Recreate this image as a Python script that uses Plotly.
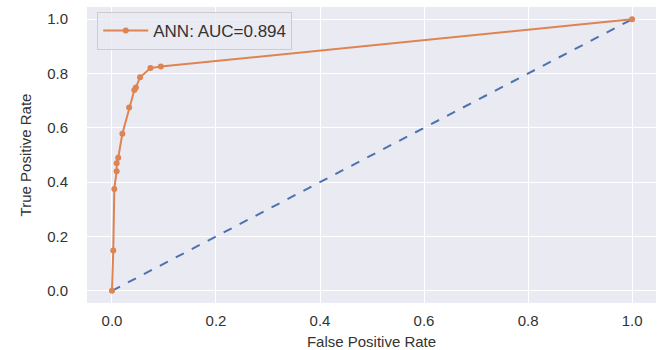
import plotly.graph_objects as go

fpr = [0.0, 0.0025, 0.0045, 0.009, 0.009, 0.012, 0.02, 0.033, 0.043, 0.046, 0.054, 0.074, 0.094, 1.0]
tpr = [0.0, 0.148, 0.375, 0.44, 0.47, 0.49, 0.578, 0.675, 0.739, 0.749, 0.786, 0.82, 0.826, 1.0]
diag_x = [0.0, 1.0]
diag_y = [0.0, 1.0]
label = "ANN: AUC=0.894"
ticks = [0.0, 0.2, 0.4, 0.6, 0.8, 1.0]
tick_text = ["0.0", "0.2", "0.4", "0.6", "0.8", "1.0"]

FONT = "Liberation Sans, Arial"
fig = go.Figure()
fig.add_trace(go.Scatter(x=diag_x, y=diag_y, mode="lines", showlegend=False,
                         line=dict(color="#4c72b0", width=2, dash="dash")))
fig.add_trace(go.Scatter(x=fpr, y=tpr, mode="lines+markers", name=label,
                         line=dict(color="#dd8452", width=2),
                         marker=dict(color="#dd8452", size=6)))

axis_common = dict(tickvals=ticks, ticktext=tick_text, automargin=False,
                   showgrid=True, gridcolor="white", gridwidth=1.2,
                   zeroline=False, showline=False, ticks="",
                   tickfont=dict(family=FONT, size=15, color="#333333"))

fig.update_layout(
    width=659, height=350,
    margin=dict(l=87, r=3, t=7, b=47),
    plot_bgcolor="#eaeaf2", paper_bgcolor="white",
    xaxis=dict(range=[-0.048, 1.046],
               title=dict(text="False Positive Rate", standoff=8,
                          font=dict(family=FONT, size=15, color="#333333")),
               ticklabelstandoff=7, **axis_common),
    yaxis=dict(range=[-0.045, 1.045],
               title=dict(text="True Positive Rate", standoff=11,
                          font=dict(family=FONT, size=15, color="#333333")),
               ticklabelstandoff=18, **axis_common),
    legend=dict(x=0.018, y=0.983, xanchor="left", yanchor="top", itemwidth=45,
                bgcolor="rgba(234,234,242,0.8)", bordercolor="#cccccc", borderwidth=1,
                font=dict(family=FONT, size=17, color="#333333")),
)

fig.write_html("out.html", config={"displayModeBar": False},
               post_script="document.body.style.margin='0';")
